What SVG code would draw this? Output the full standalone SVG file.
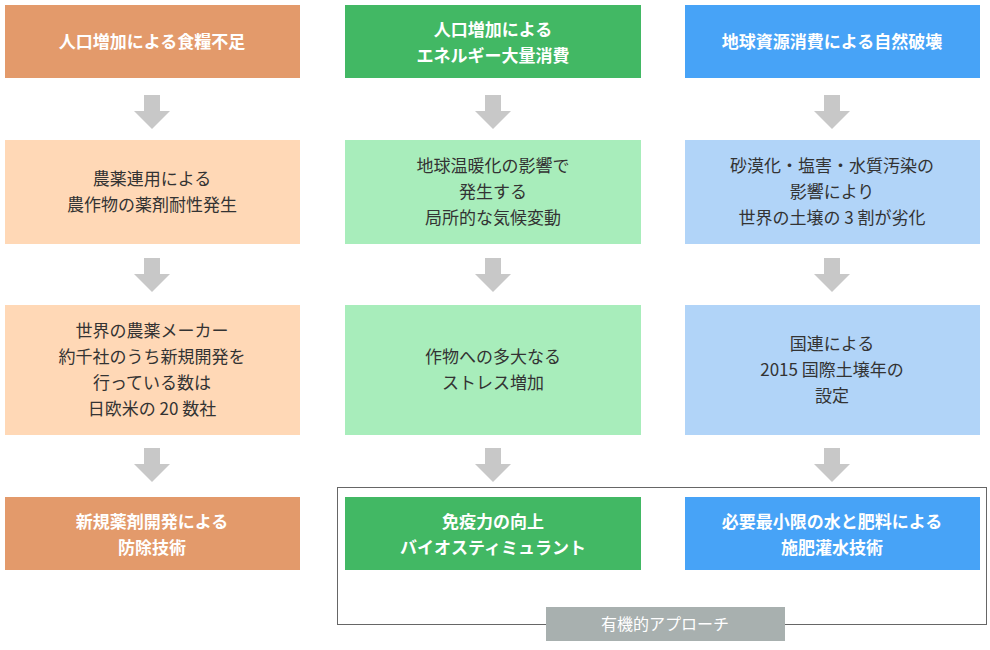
<svg xmlns="http://www.w3.org/2000/svg" width="990" height="650" viewBox="0 0 990 650">
<style>
text{font-family:"Noto Sans CJK JP","Noto Sans",sans-serif;font-size:17px;text-anchor:middle}
.w{fill:#fff;font-weight:bold}
.d{fill:#333}
.o{fill:#E39A6B}.g{fill:#42B864}.b{fill:#47A3F7}
.lo{fill:#FFD8B6}.lg{fill:#A8EDBB}.lb{fill:#B1D4F8}
.ar{fill:#C8C8C8}
</style>
<defs><path id="arr" class="ar" d="M-8,0H8V16H18L0,34L-18,16H-8Z"/></defs>
<g id="connectors">
<use href="#arr" x="152" y="95"/><use href="#arr" x="493" y="95"/><use href="#arr" x="832" y="95"/>
<use href="#arr" x="152" y="258"/><use href="#arr" x="493" y="258"/><use href="#arr" x="832" y="258"/>
<use href="#arr" x="152" y="448"/><use href="#arr" x="493" y="448"/><use href="#arr" x="832" y="448"/>
</g>
<g id="bracket"><rect x="337.5" y="487.5" width="649" height="137" fill="none" stroke="#666" stroke-width="1"/>
<rect x="546" y="607" width="239" height="34" fill="#A8B0AF"/><text x="665" y="630" fill="#fff" style="font-size:16px">有機的アプローチ</text></g>
<g id="n1"><rect class="o" x="5" y="5" width="295" height="73"/><text class="w" x="152" y="48">人口増加による食糧不足</text></g>
<g id="n2"><rect class="g" x="345" y="5" width="296" height="73"/><text class="w" x="493" y="36">人口増加による</text><text class="w" x="493" y="62">エネルギー大量消費</text></g>
<g id="n3"><rect class="b" x="685" y="5" width="295" height="73"/><text class="w" x="832" y="48">地球資源消費による自然破壊</text></g>
<g id="n4"><rect class="lo" x="5" y="140" width="295" height="104"/><text class="d" x="152" y="185">農薬連用による</text><text class="d" x="152" y="211">農作物の薬剤耐性発生</text></g>
<g id="n5"><rect class="lg" x="345" y="140" width="296" height="104"/><text class="d" x="493" y="172">地球温暖化の影響で</text><text class="d" x="493" y="198">発生する</text><text class="d" x="493" y="224">局所的な気候変動</text></g>
<g id="n6"><rect class="lb" x="685" y="140" width="295" height="104"/><text class="d" x="832" y="172">砂漠化・塩害・水質汚染の</text><text class="d" x="832" y="198">影響により</text><text class="d" x="832" y="224">世界の土壌の 3 割が劣化</text></g>
<g id="n7"><rect class="lo" x="5" y="305" width="295" height="130"/><text class="d" x="152" y="337">世界の農薬メーカー</text><text class="d" x="152" y="363">約千社のうち新規開発を</text><text class="d" x="152" y="389">行っている数は</text><text class="d" x="152" y="415">日欧米の 20 数社</text></g>
<g id="n8"><rect class="lg" x="345" y="305" width="296" height="130"/><text class="d" x="493" y="363">作物への多大なる</text><text class="d" x="493" y="389">ストレス増加</text></g>
<g id="n9"><rect class="lb" x="685" y="305" width="295" height="130"/><text class="d" x="832" y="350">国連による</text><text class="d" x="832" y="376">2015 国際土壌年の</text><text class="d" x="832" y="402">設定</text></g>
<g id="n10"><rect class="o" x="5" y="497" width="295" height="73"/><text class="w" x="152" y="528">新規薬剤開発による</text><text class="w" x="152" y="554">防除技術</text></g>
<g id="n11"><rect class="g" x="345" y="497" width="296" height="73"/><text class="w" x="493" y="528">免疫力の向上</text><text class="w" x="493" y="554">バイオスティミュラント</text></g>
<g id="n12"><rect class="b" x="685" y="497" width="295" height="73"/><text class="w" x="832" y="528">必要最小限の水と肥料による</text><text class="w" x="832" y="554">施肥灌水技術</text></g>
</svg>
